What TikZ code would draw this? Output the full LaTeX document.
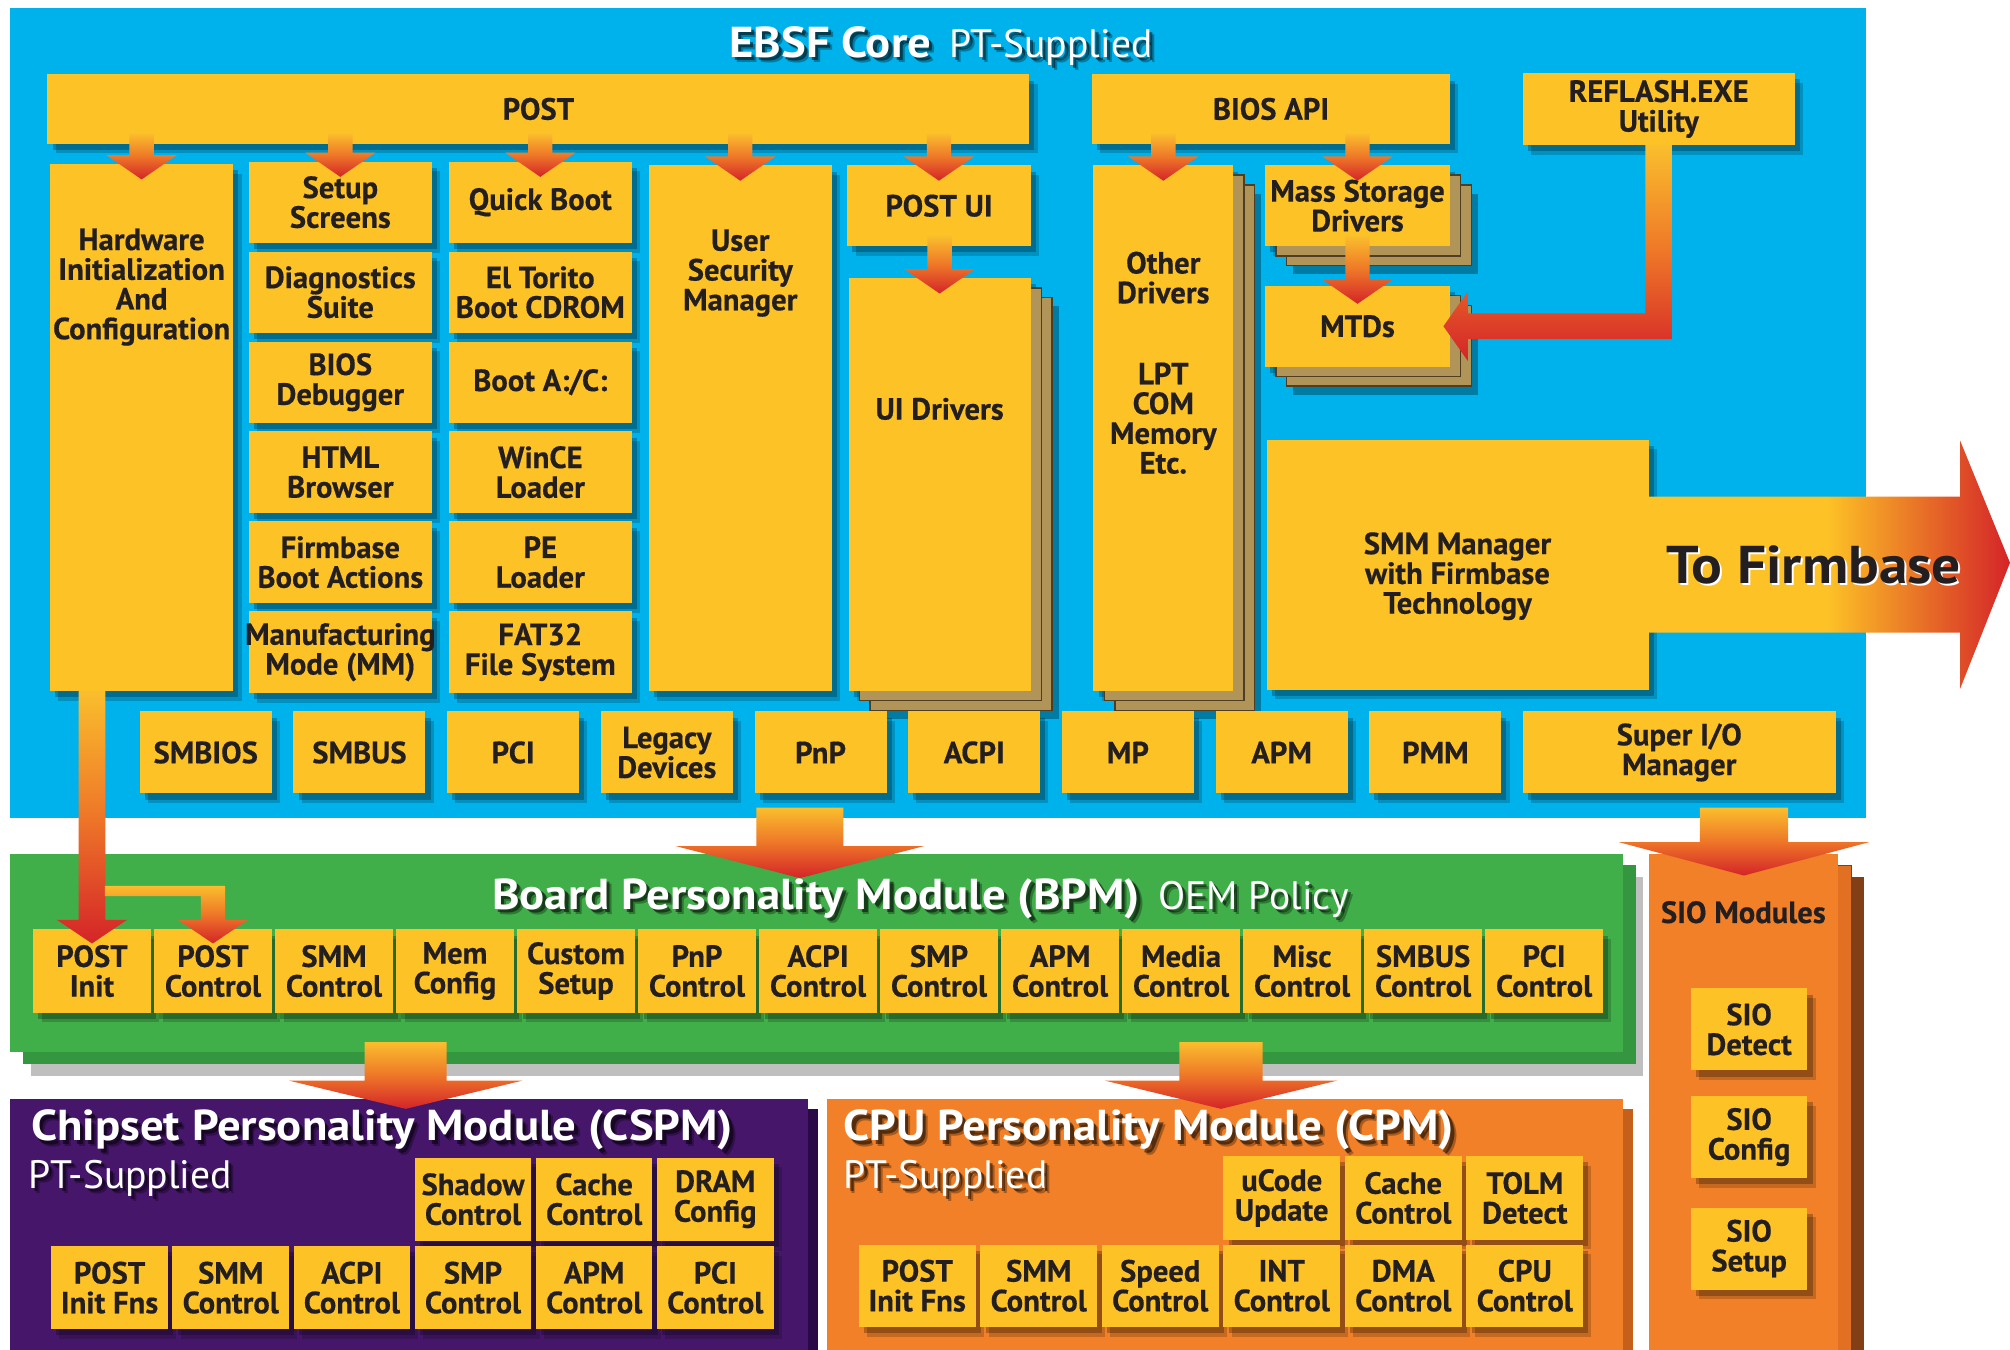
\documentclass[tikz,border=0pt]{standalone}
\usepackage{fontspec}
\setmainfont{PT Sans}
\newfontfamily\boxfam{PT Sans}[BoldFeatures={FakeBold=0.4}]
\newfontfamily\titlefam{PT Sans}[FakeStretch=1.08]
\usetikzlibrary{calc,shadows}

\definecolor{ebsfblue}{RGB}{0,178,236}
\definecolor{boxyellow}{RGB}{253,194,38}
\definecolor{bpmgreen}{RGB}{64,174,73}
\definecolor{bpmback}{RGB}{52,150,62}
\definecolor{cspmpurple}{RGB}{70,22,107}
\definecolor{cspmback}{RGB}{42,10,70}
\definecolor{cpmorange}{RGB}{241,128,40}
\definecolor{cpmback}{RGB}{196,96,26}
\definecolor{siolayer}{RGB}{226,112,34}
\definecolor{siodark}{RGB}{130,62,20}
\definecolor{layertan}{RGB}{176,148,88}
\definecolor{layerdark}{RGB}{80,62,34}
\definecolor{feedtop}{RGB}{250,190,45}
\definecolor{feedmid}{RGB}{238,118,40}
\definecolor{feedred}{RGB}{212,36,40}
\definecolor{inkblack}{RGB}{35,31,32}

\newcommand{\px}{0.025cm}
\newcommand{\boxfont}{\boxfam\fontsize{17}{16.5}\selectfont\bfseries}
\newcommand{\titlefont}{\fontsize{22}{24}\selectfont}
\newcommand{\titlebold}{\titlefam\fontsize{24}{26}\selectfont\bfseries}

% block from its corners: [style]{name}{x1}{y1}{x2}{y2}{text}
\newcommand{\blk}[7][]{%
  \node[inner sep=0pt,outer sep=0pt,minimum width={((#5)-(#3))*\px},
    minimum height={((#6)-(#4))*\px},#1] (#2) at ({((#3)+(#5))/2},{((#4)+(#6))/2}) {#7};}

% block arrow: {from}{to}{half shaft}{half head}{head length}{tip depth}
\newcommand{\feed}[6]{%
  \shade[feedshade]
    ($(#2 |- #1)+(-#3,-8)$) -- ($(#2 |- #1)+(#3,-8)$) --
    ($(#2)+(#3,{#6-#5})$) -- ($(#2)+(#4,{#6-#5})$) --
    ($(#2)+(0,#6)$) -- ($(#2)+(-#4,{#6-#5})$) --
    ($(#2)+(-#3,{#6-#5})$) -- cycle;}

% white title with a dark shadow: {name}{anchor}{position}{text}
\newcommand{\glowtitle}[4]{%
  \node[titletext,text=black,opacity=.3,anchor=#2] at ($#3+(4,4)$) {#4};
  \node[titletext,text=black,opacity=.5,anchor=#2] at ($#3+(2.5,2.5)$) {#4};
  \node[titletext,anchor=#2] (#1) at #3 {#4};}

\begin{document}
\begin{tikzpicture}[x=\px,y=-\px,
  softshadow/.style={general shadow={shadow xshift=0.16cm,shadow yshift=-0.19cm,fill=black,opacity=.18},
    general shadow={shadow xshift=0.1cm,shadow yshift=-0.12cm,fill=black,opacity=.25}},
  yb/.style={fill=boxyellow,align=center,font=\boxfont,text=inkblack,softshadow},
  pagestack/.style={
    general shadow={shadow xshift=0.55cm,shadow yshift=-0.55cm,fill=black,opacity=.3},
    general shadow={shadow xshift=0.42cm,shadow yshift=-0.38cm,fill=layertan,draw=layerdark,line width=.8pt},
    general shadow={shadow xshift=0.21cm,shadow yshift=-0.19cm,fill=layertan,draw=layerdark,line width=.8pt}},
  boxtext/.style={align=center,font=\boxfont,text=inkblack,inner sep=0pt},
  titletext/.style={font=\titlefont,text=white,inner sep=0pt},
  feedshade/.style={top color=feedtop,bottom color=feedred,middle color=feedmid}]

\useasboundingbox (0,0) rectangle (1568,1053);
\fill[white] (0,0) rectangle (1568,1053);
\clip (0,0) rectangle (1568,1053);

% panels
\blk[fill=ebsfblue]{ebsf}{8}{6}{1456}{638}{}
\blk[fill=bpmgreen,
  general shadow={shadow xshift=.4cm,shadow yshift=-.45cm,fill=black,opacity=.25},
  general shadow={shadow xshift=.25cm,shadow yshift=-.22cm,fill=bpmback}]{bpm}{8}{666}{1266}{821}{}
\blk[fill=cpmorange,
  general shadow={shadow xshift=.5cm,shadow yshift=-.45cm,fill=siodark},
  general shadow={shadow xshift=.25cm,shadow yshift=-.22cm,fill=siolayer,draw=siodark}]{sio}{1286}{666}{1434}{1070}{}
\blk[fill=cspmpurple,
  general shadow={shadow xshift=.2cm,shadow yshift=-.2cm,fill=cspmback}]{cspm}{8}{857}{630}{1070}{}
\blk[fill=cpmorange,
  general shadow={shadow xshift=.2cm,shadow yshift=-.2cm,fill=cpmback}]{cpm}{645}{857}{1266}{1070}{}

% titles
\glowtitle{ebsftitle}{base}{(734,45)}{{\titlebold EBSF Core}\hspace{0.45em}PT-Supplied}
\glowtitle{bpmtitle}{base}{(718,709.5)}{{\titlebold Board Personality Module (BPM)}\hspace{0.45em}OEM Policy}
\glowtitle{cspmtitle}{base west}{(24,890)}{\titlebold Chipset Personality Module (CSPM)}
\glowtitle{cspmsub}{base west}{(22,927)}{PT-Supplied}
\glowtitle{cpmtitle}{base west}{(658,890)}{\titlebold CPU Personality Module (CPM)}
\glowtitle{cpmsub}{base west}{(658,927)}{PT-Supplied}
\node[boxtext,anchor=base] (siotitle) at (1360,720) {SIO Modules};

% EBSF core
\blk[yb]{post}{37}{58}{803}{112}{POST}
\blk[yb]{biosapi}{852}{58}{1131}{112}{BIOS API}
\blk[yb]{reflash}{1188}{57}{1400}{113}{REFLASH.EXE\\Utility}
\blk[yb]{hw}{39}{128}{182}{539}{}
\foreach \t [count=\i from 0] in {{Setup\\Screens},{Diagnostics\\Suite},{BIOS\\Debugger},
    {HTML\\Browser},{Firmbase\\Boot Actions},{\kern-2pt Manufacturing\kern-2pt\\Mode (MM)}}
  {\blk[yb]{apps\i}{194}{126+\i*70.2}{337}{189.5+\i*70.2}{\t}}
\foreach \t [count=\i from 0] in {{Quick Boot},{El Torito\\Boot CDROM},{Boot A:/C:},
    {WinCE\\Loader},{PE\\Loader},{FAT32\\File System}}
  {\blk[yb]{boot\i}{350}{126+\i*70.2}{493}{189.5+\i*70.2}{\t}}
\blk[yb]{user}{506}{129}{649}{539}{}
\blk[yb]{postui}{661}{129}{804}{192}{POST UI}
\blk[yb,pagestack]{uidrv}{662}{217}{804}{539}{}
\blk[yb,pagestack]{other}{853}{129}{962}{539}{}
\blk[yb,pagestack]{mass}{987}{129}{1131}{192}{Mass Storage\\Drivers}
\blk[yb,pagestack]{mtd}{987}{223}{1131}{286}{MTDs}
\blk[yb]{smm}{988}{343}{1286}{538}{}
\foreach \t [count=\i from 0] in {SMBIOS,SMBUS,PCI,{Legacy\\Devices},PnP,ACPI,MP,APM,PMM}
  {\blk[yb]{core\i}{109+\i*119.9}{555}{212+\i*119.9}{619}{\t}}
\blk[yb]{superio}{1188}{555}{1432}{619}{Super I/O\\Manager}

\node[boxtext] (hwtext) at ($(hw.north)+(0,96)$) {Hardware\\Initialization\\And\\Configuration};
\node[boxtext] (usertext) at ($(user.north)+(0,84)$) {User\\Security\\Manager};
\node[boxtext] (uitext) at ($(uidrv.north)+(0,102)$) {UI Drivers};
\node[boxtext] (othertext) at ($(other.north)+(0,154)$) {Other\\Drivers\\[1cm]LPT\\COM\\Memory\\Etc.};
\node[boxtext] (smmtext) at ($(smm.center)+(0,9)$) {SMM Manager\\with Firmbase\\Technology};

% BPM
\foreach \t [count=\i from 0] in {{POST\\Init},{POST\\Control},{SMM\\Control},{Mem\\Config},
    {Custom\\Setup},{PnP\\Control},{ACPI\\Control},{SMP\\Control},{APM\\Control},
    {Media\\Control},{Misc\\Control},{SMBUS\\Control},{PCI\\Control}}
  {\blk[yb]{bpm\i}{26+\i*94.4}{725}{117.5+\i*94.4}{790}{\t}}

% SIO
\blk[yb]{siodetect}{1319}{771}{1410}{835}{SIO\\Detect}
\blk[yb]{sioconfig}{1319}{855}{1410}{919}{SIO\\Config}
\blk[yb]{siosetup}{1319}{942}{1410}{1006}{SIO\\Setup}

% CSPM
\foreach \t [count=\i from 3] in {{Shadow\\Control},{Cache\\Control},{DRAM\\Config}}
  {\blk[yb]{cstop\i}{40+\i*94.5}{903}{131+\i*94.5}{968}{\t}}
\foreach \t [count=\i from 0] in {{POST\\Init Fns},{SMM\\Control},{ACPI\\Control},
    {SMP\\Control},{APM\\Control},{PCI\\Control}}
  {\blk[yb]{csbot\i}{40+\i*94.5}{972}{131+\i*94.5}{1037}{\t}}

% CPM
\foreach \t [count=\i from 3] in {{uCode\\Update},{Cache\\Control},{TOLM\\Detect}}
  {\blk[yb]{cptop\i}{670+\i*94.8}{902}{761+\i*94.8}{967}{\t}}
\foreach \t [count=\i from 0] in {{POST\\Init Fns},{SMM\\Control},{Speed\\Control},
    {INT\\Control},{DMA\\Control},{CPU\\Control}}
  {\blk[yb]{cpbot\i}{670+\i*94.8}{971}{761+\i*94.8}{1035}{\t}}

% feeds inside the core
\foreach \n in {hw,apps0,boot0,user,postui}
  {\feed{post.south}{\n.north}{9.5}{27.5}{19}{12}}
\foreach \n in {other,mass}
  {\feed{biosapi.south}{\n.north}{9.5}{27.5}{19}{12}}
\feed{postui.south}{uidrv.north}{9.5}{27.5}{19}{12}
\feed{mass.south}{mtd.north}{9.5}{27.5}{19}{14}

% reflash to MTDs
\shade[feedshade]
  ($(reflash.south)+(-10.5,0)$) -- ($(reflash.south)+(10.5,0)$) --
  ($(reflash.south |- mtd.east)+(10.5,10)$) -- ($(mtd.east)+(14,10)$) --
  ($(mtd.east)+(14,27)$) -- ($(mtd.east)+(-5,0)$) -- ($(mtd.east)+(14,-27)$) --
  ($(mtd.east)+(14,-10)$) -- ($(reflash.south |- mtd.east)+(-10.5,-10)$) -- cycle;

% to firmbase
\coordinate (firmbase) at (1568,439);
\shade[left color=boxyellow,right color=feedred,middle color=boxyellow]
  ($(smm.east)+(-3,-53)$) -- ($(smm.east)+(243,-53)$) -- ($(smm.east)+(243,-97)$) --
  (firmbase) -- ($(smm.east)+(243,97)$) -- ($(smm.east)+(243,53)$) --
  ($(smm.east)+(-3,53)$) -- cycle;
\node[font=\titlefam\fontsize{29.5}{32}\selectfont\bfseries,text=white,inner sep=0pt,anchor=base] at (1416.5,456.5) {To Firmbase};
\node[font=\titlefam\fontsize{29.5}{32}\selectfont\bfseries,text=inkblack,inner sep=0pt,anchor=base] (fbtext) at (1415,455) {To Firmbase};

% hardware init to POST Init and POST Control
\shade[feedshade]
  ($(bpm0.north |- hw.south)+(-10.5,0)$) -- ($(bpm0.north |- hw.south)+(10.5,0)$) --
  ($(bpm0.north)+(10.5,-7.5)$) -- ($(bpm0.north)+(27.5,-7.5)$) -- ($(bpm0.north)+(0,11)$) --
  ($(bpm0.north)+(-27.5,-7.5)$) -- ($(bpm0.north)+(-10.5,-7.5)$) -- cycle;
\shade[feedshade]
  ($(bpm0.north |- bpm1.north)+(10,-34)$) -- ($(bpm1.north)+(9.5,-34)$) --
  ($(bpm1.north)+(9.5,-7.5)$) -- ($(bpm1.north)+(27.5,-7.5)$) -- ($(bpm1.north)+(0,11)$) --
  ($(bpm1.north)+(-27.5,-7.5)$) -- ($(bpm1.north)+(-9.5,-7.5)$) --
  ($(bpm1.north)+(-9.5,-26)$) -- ($(bpm0.north |- bpm1.north)+(10,-26)$) -- cycle;

% feeds between modules
\coordinate (bpmin) at (624,666);
\coordinate (sioin) at (1360.5,666);
\coordinate (cspmin) at (316.5,857);
\coordinate (cpmin) at (952.5,857);
\feed{ebsf.south}{bpmin}{34}{97}{25}{19}
\feed{ebsf.south}{sioin}{34.5}{97.5}{26}{17}
\feed{bpm.south}{cspmin}{32}{91}{22}{8}
\feed{bpm.south}{cpmin}{32.5}{90.5}{22}{8}
\end{tikzpicture}
\end{document}
